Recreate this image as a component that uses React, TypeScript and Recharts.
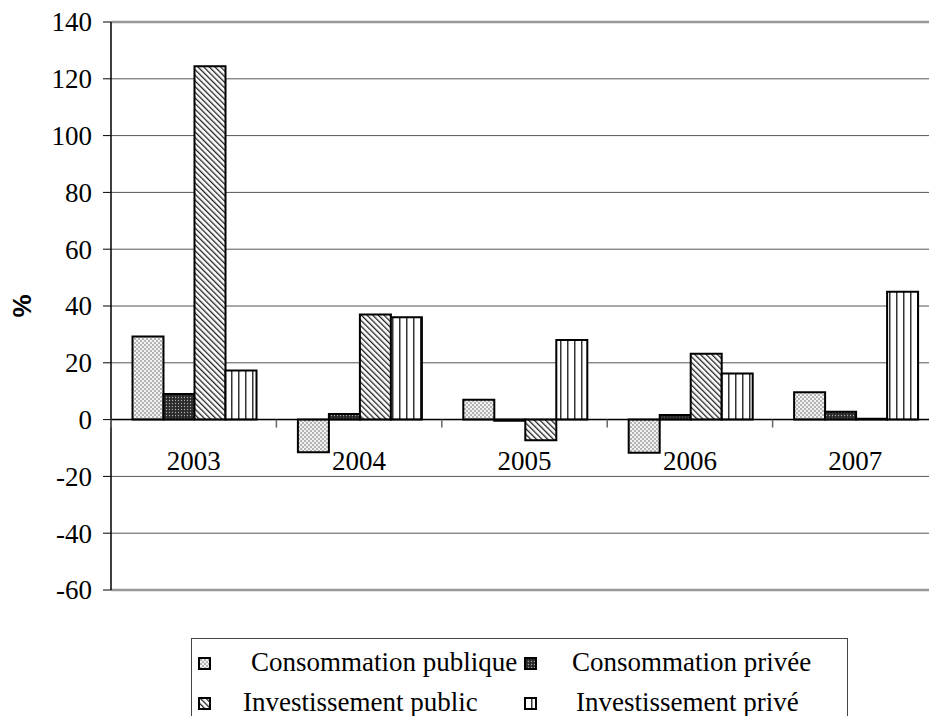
import React from 'react';
import { BarChart, Bar, XAxis, YAxis, CartesianGrid, ReferenceLine, Legend } from 'recharts';

// ---- data ----
const YEARS = ['2003', '2004', '2005', '2006', '2007'];
const CONSO_PUBLIQUE = [29.3, -11.5, 7.0, -11.7, 9.6];
const CONSO_PRIVEE = [9.0, 2.0, -0.4, 1.6, 2.8];
const INVEST_PUBLIC = [124.4, 37.0, -7.3, 23.2, 0.3];
const INVEST_PRIVE = [17.3, 36.0, 28.0, 16.2, 45.0];
const Y_TICKS = [-60, -40, -20, 0, 20, 40, 60, 80, 100, 120, 140];
const SERIES_NAMES = ['Consommation publique', 'Consommation privée', 'Investissement public', 'Investissement privé'];
const SERIES_KEYS = ['cp', 'cpr', 'ip', 'ipr'];
const PATTERN_IDS = ['patCP', 'patCPR', 'patIP', 'patIPR'];

const data = YEARS.map((y, i) => ({
  year: y,
  cp: CONSO_PUBLIQUE[i],
  cpr: CONSO_PRIVEE[i],
  ip: INVEST_PUBLIC[i],
  ipr: INVEST_PRIVE[i],
}));

// ---- layout ----
const SERIF = '"Liberation Serif", "Times New Roman", serif';
const SANS = '"Liberation Sans", Arial, sans-serif';
const CHART_W = 940;
const CHART_H = 716;
const X_AXIS_H = 2;
const MARGIN = { top: 22, right: 2, bottom: 124, left: 0 };
const Y_AXIS_W = 111;
const PLOT_W = CHART_W - MARGIN.left - MARGIN.right - Y_AXIS_W;
const PLOT_H = CHART_H - MARGIN.top - MARGIN.bottom - X_AXIS_H;
const Y_MIN = Y_TICKS[0];
const Y_MAX = Y_TICKS[Y_TICKS.length - 1];
const ZERO_Y = MARGIN.top + (Y_MAX / (Y_MAX - Y_MIN)) * PLOT_H;

const CategoryTick = (props: any) => {
  const { x, payload, index } = props;
  const half = PLOT_W / YEARS.length / 2;
  return (
    <g>
      <line x1={x - half} x2={x - half} y1={ZERO_Y} y2={ZERO_Y + 8} stroke="#666" strokeWidth={1.5} />
      {index === YEARS.length - 1 && (
        <line x1={x + half} x2={x + half} y1={ZERO_Y} y2={ZERO_Y + 8} stroke="#666" strokeWidth={1.5} />
      )}
      <text x={x} y={ZERO_Y + 50} textAnchor="middle" fontSize={27} fontFamily={SERIF} fill="#000">
        {payload.value}
      </text>
    </g>
  );
};

const ValueTick = (props: any) => {
  const { x, y, payload } = props;
  return (
    <text
      x={x}
      y={y}
      dy="0.35em"
      textAnchor="end"
      fontSize={27}
      fill="#000"
      style={{ fontFamily: SERIF }}
    >
      {payload.value}
    </text>
  );
};

const YLabel = (props: any) => {
  const vb = props.viewBox || { x: 0, y: MARGIN.top, height: PLOT_H };
  const cx = vb.x + 22;
  const cy = vb.y + vb.height / 2;
  return (
    <text
      x={cx}
      y={cy}
      transform={`rotate(-90 ${cx} ${cy})`}
      textAnchor="middle"
      dominantBaseline="central"
      fontSize={26}
      fontWeight="bold"
      style={{ fontFamily: SANS }}
      fill="#000"
    >
      %
    </text>
  );
};

const ICON_LEFT = [6, 332, 6, 332];
const TEXT_LEFT = [59, 380, 51, 384];
const ROW_TOP = [12, 52];

const LegendContent = () => (
  <div
    style={{
      width: 657,
      height: 90,
      border: '1.5px solid #444',
      boxSizing: 'border-box',
      background: '#fff',
      position: 'relative',
      fontFamily: SERIF,
      fontSize: 27,
      color: '#000',
    }}
  >
    {SERIES_NAMES.map((name, i) => {
      const row = Math.floor(i / 2);
      return (
        <React.Fragment key={name}>
          <svg
            width={13}
            height={13}
            style={{ position: 'absolute', left: ICON_LEFT[i], top: ROW_TOP[row] + 6 }}
          >
            <rect x={1} y={1} width={11} height={11} fill={`url(#${PATTERN_IDS[i]})`} stroke="#000" strokeWidth={2} />
          </svg>
          <span style={{ position: 'absolute', left: TEXT_LEFT[i], top: ROW_TOP[row] - 4, lineHeight: '31px', whiteSpace: 'nowrap' }}>
            {name}
          </span>
        </React.Fragment>
      );
    })}
  </div>
);

export default function App() {
  return (
    <div
      style={{
        position: 'absolute',
        left: 0,
        top: 0,
        width: 929,
        height: 716,
        overflow: 'hidden',
        background: '#fff',
        fontFamily: SERIF,
      }}
    >
      <BarChart
        width={CHART_W}
        height={CHART_H}
        data={data}
        margin={MARGIN}
        barCategoryGap="13%"
        barGap={0}
        style={{ fontFamily: SERIF }}
      >
        <defs>
          <pattern id="patCP" width="4" height="4" patternUnits="userSpaceOnUse">
            <rect width="4" height="4" fill="#f2f2f2" />
            <circle cx="1" cy="1" r="0.8" fill="#666" />
            <circle cx="3" cy="3" r="0.8" fill="#666" />
          </pattern>
          <pattern id="patCPR" width="3" height="3" patternUnits="userSpaceOnUse">
            <rect width="3" height="3" fill="#2a2a2a" />
            <circle cx="1.5" cy="1.5" r="0.7" fill="#aaa" />
          </pattern>
          <pattern id="patIP" width="4" height="4" patternUnits="userSpaceOnUse" patternTransform="rotate(-45)">
            <rect width="4" height="4" fill="#fff" />
            <rect x="0" y="0" width="1.3" height="4" fill="#222" />
          </pattern>
          <pattern id="patIPR" width="7" height="7" patternUnits="userSpaceOnUse">
            <rect width="7" height="7" fill="#fff" />
            <rect x="0" y="0" width="1.5" height="7" fill="#333" />
          </pattern>
        </defs>
        <CartesianGrid vertical={false} stroke="#555" strokeWidth={1} />
        <XAxis
          dataKey="year"
          height={X_AXIS_H}
          axisLine={false}
          tickLine={false}
          interval={0}
          tick={(p: any) => <CategoryTick {...p} />}
        />
        <YAxis
          width={Y_AXIS_W}
          domain={[Y_MIN, Y_MAX]}
          ticks={Y_TICKS}
          interval={0}
          tickSize={8}
          tickMargin={11}
          axisLine={{ stroke: '#000', strokeWidth: 1.5 }}
          tickLine={{ stroke: '#000', strokeWidth: 1 }}
          tick={(p: any) => <ValueTick {...p} />}
          label={<YLabel />}
        />
        <ReferenceLine y={Y_MAX} stroke="#999" strokeWidth={2.5} />
        <ReferenceLine y={Y_MIN} stroke="#999" strokeWidth={2.5} />
        <ReferenceLine y={0} stroke="#000" strokeWidth={1.5} />
        {SERIES_KEYS.map((k, i) => (
          <Bar
            key={k}
            dataKey={k}
            name={SERIES_NAMES[i]}
            fill={`url(#${PATTERN_IDS[i]})`}
            stroke="#000"
            strokeWidth={2}
            isAnimationActive={false}
          />
        ))}
        <Legend
          layout="horizontal"
          verticalAlign="middle"
          align="center"
          wrapperStyle={{ left: 191, top: 638, width: 657, height: 90 }}
          content={<LegendContent />}
        />
      </BarChart>
    </div>
  );
}
